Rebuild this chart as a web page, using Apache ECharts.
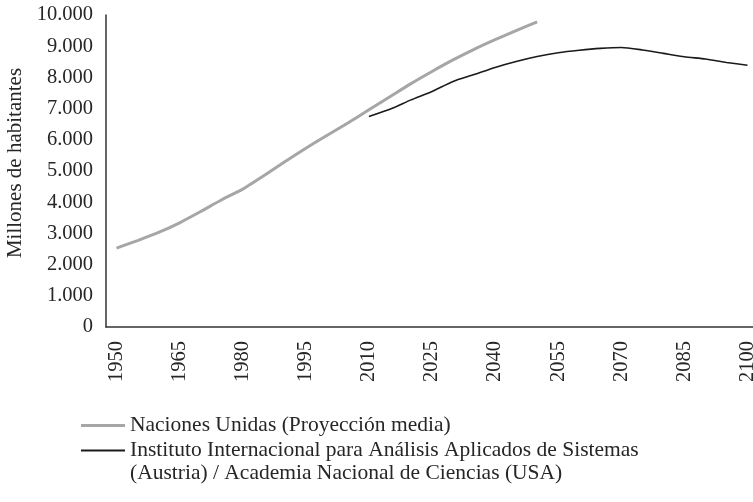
<!DOCTYPE html>
<html>
<head>
<meta charset="utf-8">
<script src="https://cdn.jsdelivr.net/npm/echarts@6/dist/echarts.min.js"></script>
<style>
  html, body { margin: 0; padding: 0; background: #fff; }
  #main { width: 753px; height: 502px; }
</style>
</head>
<body>
<div id="main"></div>
<script>
// years, every 5
const years = ['1950', '1955', '1960', '1965', '1970', '1975', '1980', '1985', '1990', '1995',
    '2000', '2005', '2010', '2015', '2020', '2025', '2030', '2035', '2040', '2045',
    '2050', '2055', '2060', '2065', '2070', '2075', '2080', '2085', '2090', '2095', '2100'];

// Naciones Unidas, millones
const onu = [2530, 2770, 3030, 3340, 3700, 4080, 4420, 4850, 5300, 5730,
    6140, 6540, 6960, 7380, 7800, 8190, 8560, 8900, 9210, 9500, 9780];

// IIASA / NAS, millones (desde 2010)
const iiasa = [null, null, null, null, null, null, null, null, null, null,
    null, null, 6750, 6980, 7280, 7550, 7870, 8090, 8320, 8510,
    8670, 8790, 8870, 8930, 8960, 8880, 8770, 8660, 8590, 8480, 8390];

const nameOnu = 'Naciones Unidas (Proyección media)';
const nameIiasa = 'Instituto Internacional para Análisis Aplicados de Sistemas (Austria) / Academia Nacional de Ciencias (USA)';

const font = "'Liberation Serif', 'Times New Roman', serif";
const textColor = '#262626';

const chart = echarts.init(document.getElementById('main'));

const legendBase = {
    orient: 'vertical',
    left: 81,
    padding: 0,
    itemWidth: 44,
    icon: 'rect',
    textStyle: { fontFamily: font, fontSize: 21.5, color: textColor, lineHeight: 23 }
};

option = {
    animation: false,
    grid: { left: 106, right: -5, top: 15, bottom: 175, outerBoundsMode: 'none', containLabel: false },
    legend: [
        Object.assign({}, legendBase, {
            top: 414,
            itemHeight: 3,
            data: [{ name: nameOnu, itemStyle: { color: '#a6a6a6' } }]
        }),
        Object.assign({}, legendBase, {
            top: 416,
            itemHeight: 2,
            data: [{ name: nameIiasa, itemStyle: { color: '#1a1a1a' } }],
            formatter: function () {
                return '\nInstituto Internacional para Análisis Aplicados de Sistemas\n(Austria) / Academia Nacional de Ciencias (USA)';
            }
        })
    ],
    xAxis: {
        type: 'category',
        data: years,
        boundaryGap: true,
        axisLine: { lineStyle: { color: '#333333', width: 1.5 } },
        axisTick: { show: false },
        axisLabel: {
            interval: 2,
            rotate: 90,
            margin: 14,
            fontFamily: font,
            fontSize: 20.5,
            color: textColor
        }
    },
    yAxis: {
        type: 'value',
        min: 0,
        max: 10000,
        interval: 1000,
        name: 'Millones de habitantes',
        nameLocation: 'middle',
        nameGap: 78,
        nameTextStyle: { fontFamily: font, fontSize: 21, color: textColor, padding: [0, 0, 0, 16] },
        axisLine: { show: true, lineStyle: { color: '#333333', width: 1.5 } },
        axisTick: { show: false },
        splitLine: { show: false },
        axisLabel: {
            margin: 13,
            fontFamily: font,
            fontSize: 20.5,
            color: textColor,
            formatter: function (v) {
                return String(v).replace(/\B(?=(\d{3})+(?!\d))/g, '.');
            }
        }
    },
    series: [
        {
            name: nameOnu,
            type: 'line',
            data: onu,
            symbol: 'none',
            smooth: 0.2,
            lineStyle: { color: '#a6a6a6', width: 3 }
        },
        {
            name: nameIiasa,
            type: 'line',
            data: iiasa,
            symbol: 'none',
            smooth: 0.2,
            lineStyle: { color: '#1a1a1a', width: 1.6 }
        }
    ]
};

chart.setOption(option);
</script>
</body>
</html>
